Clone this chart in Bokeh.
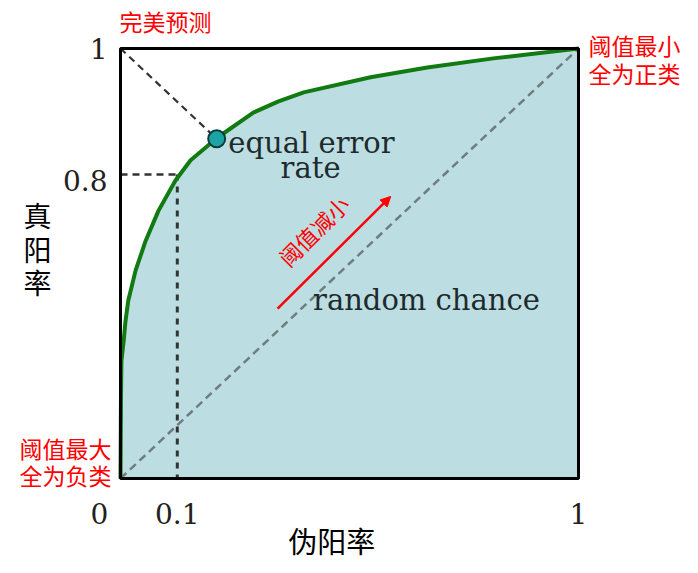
from bokeh.plotting import figure
from bokeh.models import Label, Arrow, NormalHead, Range1d
from bokeh.core.properties import value
from bokeh.embed import file_html
from bokeh.resources import INLINE

# ROC curve (false positive rate, true positive rate)
fpr = [0.0, 0.001, 0.002, 0.007, 0.011, 0.017, 0.033, 0.055, 0.083, 0.120,
       0.153, 0.212, 0.290, 0.345, 0.400, 0.546, 0.670, 0.814, 1.0]
tpr = [0.0, 0.181, 0.274, 0.321, 0.367, 0.414, 0.484, 0.553, 0.623, 0.693,
       0.740, 0.793, 0.851, 0.877, 0.898, 0.933, 0.956, 0.977, 1.0]

# equal error rate point (on the line tpr = 1 - fpr)
eer_fpr = 0.21
eer_tpr = 0.79

# guide point marked "0.1" / "0.8"
guide_fpr = 0.124
guide_tpr = 0.707

# tick labels
x_ticks = [guide_fpr, 1.0]
x_tick_labels = ["0.1", "1"]
y_ticks = [guide_tpr, 1.0]
y_tick_labels = ["0.8", "1"]
origin_label = "0"

# threshold-decreasing arrow (fpr, tpr)
arrow_start = (0.343, 0.395)
arrow_end = (0.590, 0.656)

x_title = "伪阳率"
y_title = "真阳率"
eer_text = ["equal error", "rate"]
random_text = "random chance"
perfect_text = "完美预测"
min_thr_text = ["阈值最小", "全为正类"]
max_thr_text = ["阈值最大", "全为负类"]
arrow_text = "阈值减小"

CJK = "Noto Sans CJK SC"
SERIF = "DejaVu Serif"
RED = "#ff0000"
TICK_COLOR = "#231f20"

W, H = 698, 573
FL, FR, FT, FB = 120, 578, 48, 478  # frame box in pixels
sx = 1.0 / (FR - FL)
sy = 1.0 / (FB - FT)

p = figure(width=W, height=H, output_backend="svg", toolbar_location=None,
           x_range=Range1d(-FL * sx, 1 + (W - FR) * sx),
           y_range=Range1d(-(H - FB) * sy, 1 + FT * sy),
           min_border=0)
p.axis.visible = False
p.grid.visible = False
p.background_fill_color = "white"
p.border_fill_color = "white"
p.outline_line_color = None

# area under curve
p.varea(x=fpr, y1=[0] * len(fpr), y2=tpr, fill_color="#bcdee2")

# random chance diagonal
p.line([0, 1], [0, 1], line_color="#6f7c80", line_width=2.5, line_dash="8 5")

# guide lines
p.line([0, guide_fpr], [guide_tpr, guide_tpr], line_color="#333333",
       line_width=2.5, line_dash="7 5")
p.line([guide_fpr, guide_fpr], [guide_tpr, 0], line_color="#333333",
       line_width=3, line_dash="6 6")

# line from perfect prediction to EER point
p.line([0, eer_fpr], [1, eer_tpr], line_color="#333333", line_width=2.2,
       line_dash="7 5")

# ROC curve
p.line(fpr, tpr, line_color="#117a11", line_width=4, line_join="round")

# plot box
p.quad(left=[0], right=[1], bottom=[0], top=[1], fill_color=None,
       line_color="black", line_width=3)

# EER marker
p.scatter([eer_fpr], [eer_tpr], size=17, fill_color="#1ba3a6",
          line_color="#0b3d3d", line_width=2)

# arrow
p.add_layout(Arrow(x_start=arrow_start[0], y_start=arrow_start[1],
                   x_end=arrow_end[0], y_end=arrow_end[1],
                   line_color=RED, line_width=2.5,
                   end=NormalHead(size=10, fill_color=RED, line_color=RED)))

# tick labels
p.text(x=x_ticks, y=[0] * len(x_ticks), text=x_tick_labels, y_offset=35,
       text_font=value(SERIF), text_font_size="28px", text_color=TICK_COLOR,
       text_align="center", text_baseline="middle")
p.text(x=[0] * len(y_ticks), y=y_ticks, text=y_tick_labels, x_offset=-13,
       y_offset=[6, 0], text_font=value(SERIF), text_font_size="28px",
       text_color=TICK_COLOR, text_align="right", text_baseline="middle")
p.text(x=[0], y=[0], text=[origin_label], x_offset=-21, y_offset=35,
       text_font=value(SERIF), text_font_size="28px", text_color=TICK_COLOR,
       text_align="center", text_baseline="middle")


def lab(x, y, text, font, size, color="black", align="center",
        baseline="middle", angle=0):
    p.add_layout(Label(x=x, y=y, text=text, text_font=font,
                       text_font_size=size, text_color=color,
                       text_align=align, text_baseline=baseline,
                       angle=angle, angle_units="deg"))


# in-plot annotations
lab(0.417, 0.780, eer_text[0], SERIF, "29px", color="#1e2a2c")
lab(0.415, 0.722, eer_text[1], SERIF, "29px", color="#1e2a2c")
lab(0.668, 0.416, random_text, SERIF, "29px", color="#1e2a2c")
lab(0.421, 0.577, arrow_text, CJK, "22px", color=RED, angle=45)

# red side notes
lab(0.098, 1.065, perfect_text, CJK, "23px", color=RED)
lab(1.022, 1.009, min_thr_text[0], CJK, "23px", color=RED, align="left")
lab(1.022, 0.944, min_thr_text[1], CJK, "23px", color=RED, align="left")
lab(-0.12, 0.070, max_thr_text[0], CJK, "23px", color=RED)
lab(-0.12, 0.007, max_thr_text[1], CJK, "23px", color=RED)

# axis titles
lab(0.461, -0.144, x_title, CJK, "29px")
for i, ch in enumerate(y_title):
    lab(-0.181, 0.612 - i * 0.078, ch, CJK, "28px")

open("out.html", "w").write(file_html(p, INLINE))
